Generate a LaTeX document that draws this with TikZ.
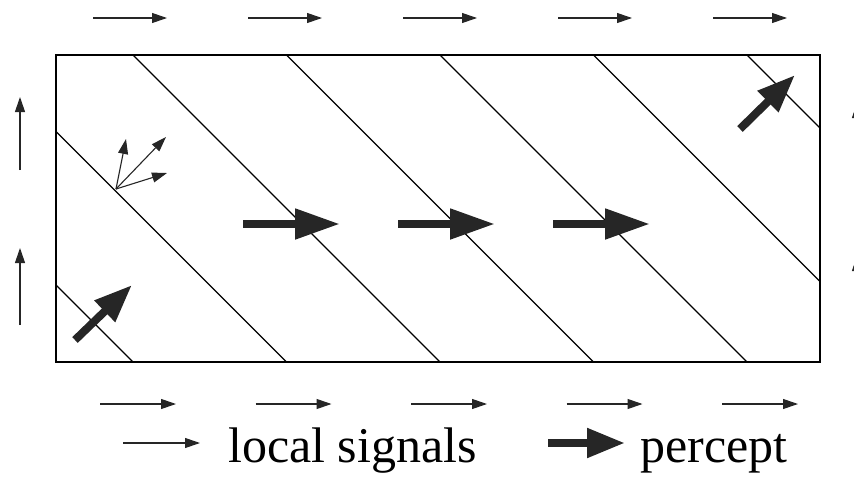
\documentclass[tikz,border=0pt]{standalone}
\usepackage{fontspec}
\setmainfont{Liberation Serif}
\usetikzlibrary{arrows.meta}
\tikzset{
  signal/.style={line width=1.1pt, black!85, -{Triangle[length=15pt,width=10pt]}},
  percept/.style={line width=8pt, black!85, -{Triangle[length=45pt,width=29pt]}},
  smallpercept/.style={line width=8pt, black!85, -{Triangle[length=38pt,width=28pt]}},
  border/.style={line width=1.5pt},
  front/.style={line width=1.1pt},
  legend/.style={inner sep=0pt, anchor=base west, font=\fontsize{50}{60}\selectfont}
}

\begin{document}
\begin{tikzpicture}[x=1pt, y=-1pt]
\useasboundingbox (0,0) rectangle (854,490);

% field with the moving fronts
\draw[border] (56,55) rectangle (820,362);
\begin{scope}
  \clip (56,55) rectangle (820,362);
  \foreach \c in {-174,-20.5,133,286.5,440,593.5,747}
    \draw[front] (\c,55) -- ++(307,307);
\end{scope}

% local signals round the border
\foreach \k in {0,...,4} {
  \draw[signal] (93+155*\k,18) -- ++(74,0);
  \draw[signal] (100+155.5*\k,404) -- ++(76,0);
}
\draw[signal] (20,170) -- (20,97);
\draw[signal] (20,325) -- (20,248);
\draw[signal] (857,178) -- (857,103);
\draw[signal] (857,333) -- (857,256);

% signals leaving one point of a front
\coordinate (src) at (116,189);
\foreach \tip in {(126,139),(166,137),(167,173)}
  \draw[signal] (src) -- \tip;

% percepts
\foreach \k in {0,1,2}
  \draw[percept] (243+155*\k,224) -- ++(97,0);
\draw[smallpercept] (75,340) -- (132,285);
\draw[smallpercept] (740,129) -- (795,75);

% legend
\node[legend] (lsig) at (228,462) {local signals};
\node[legend] (perc) at (640,462) {percept};
\draw[signal] ([xshift=-105pt,yshift=19pt]lsig.base west) -- ++(77,0);
\draw[smallpercept] ([xshift=-92pt,yshift=19pt]perc.base west) -- ++(77,0);
\end{tikzpicture}
\end{document}
